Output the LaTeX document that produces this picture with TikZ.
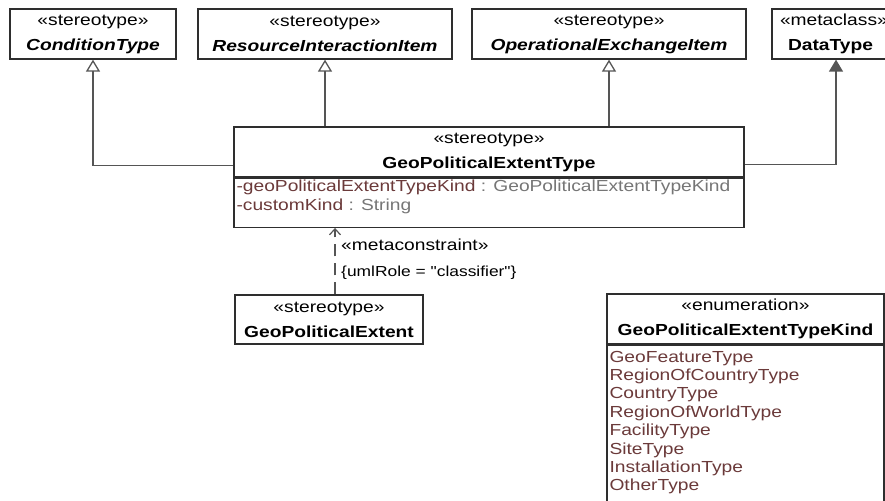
\documentclass[tikz,border=0pt]{standalone}
\usepackage{fontspec}
\setmainfont{Liberation Sans}[FakeStretch=1.2, Ligatures=TeXOff]
\usetikzlibrary{arrows.meta,calc}

\definecolor{attrname}{HTML}{6B3A3A}
\definecolor{attrtype}{HTML}{767676}
\definecolor{umlline}{HTML}{555555}
\definecolor{umlborder}{HTML}{2E2E2E}

\tikzset{
  classbox/.style={draw=umlborder, line width=1.3pt, fill=white, inner sep=0pt,
    align=center, font=\fontsize{16}{25}\selectfont},
  compartment/.style={draw=umlborder, line width=1.3pt, inner sep=0pt, anchor=north west},
  members/.style={anchor=north west, inner sep=0pt, align=left},
  general/.style={draw=umlline, line width=1.3pt, -{Triangle[open,length=12pt,width=14pt]}},
  extension/.style={draw=umlline, line width=1.3pt, -{Triangle[length=12pt,width=14pt]}},
  metadep/.style={draw=umlline, line width=1.2pt, dash pattern=on 12pt off 7pt,
    -{Straight Barb[length=6pt,width=11pt]}},
  deplabel/.style={anchor=west, inner sep=0pt}
}

\begin{document}
\begin{tikzpicture}[x=1pt,y=-1pt]
  \useasboundingbox[fill=white] (0,0) rectangle (885,500);

  % parent stereotypes and metaclass
  \node[classbox, minimum width=166pt, minimum height=50pt] (cond) at (93,34)
    {«stereotype»\\\textbf{\textit{ConditionType}}};
  \node[classbox, minimum width=254pt, minimum height=50pt] (res) at (325,34)
    {«stereotype»\\\textbf{\textit{ResourceInteractionItem}}};
  \node[classbox, minimum width=274pt, minimum height=50pt] (opx) at (609,34)
    {«stereotype»\\\textbf{\textit{OperationalExchangeItem}}};
  \node[classbox, minimum width=128pt, minimum height=50pt, text width=112pt, align=left] (dtype) at (836,34)
    {«metaclass»\\\hspace*{8pt}\textbf{DataType}};

  % GeoPoliticalExtentType
  \node[classbox, minimum width=510pt, minimum height=50pt] (gpetHead) at (489,152)
    {«stereotype»\\\textbf{GeoPoliticalExtentType}};
  \node[compartment, minimum width=510pt, minimum height=49pt] (gpetAttr) at (gpetHead.south west) {};
  \node[members, font=\fontsize{16}{19.5}\selectfont] (gpetAttrs) at ($(gpetAttr.north west)+(3,2)$)
    {\textcolor{attrname}{-geoPoliticalExtentTypeKind} \textcolor{attrtype}{: GeoPoliticalExtentTypeKind}\\
     \textcolor{attrname}{-customKind} \textcolor{attrtype}{: String}};

  % GeoPoliticalExtent
  \node[classbox, minimum width=188pt, minimum height=49pt] (gpe) at (329,319.5)
    {«stereotype»\\\textbf{GeoPoliticalExtent}};

  % enumeration
  \node[classbox, minimum width=277pt, minimum height=50pt] (enumHead) at (745.5,319)
    {«enumeration»\\\textbf{GeoPoliticalExtentTypeKind}};
  \node[compartment, minimum width=277pt, minimum height=170pt] (enumLits) at (enumHead.south west) {};
  \node[members, font=\fontsize{16}{18.4}\selectfont, text=attrname] (enumList) at ($(enumLits.north west)+(3,6)$)
    {GeoFeatureType\\RegionOfCountryType\\CountryType\\RegionOfWorldType\\
     FacilityType\\SiteType\\InstallationType\\OtherType};

  % generalizations
  \coordinate (joinL) at ($(gpetHead.south west)+(0,-12)$);
  \coordinate (joinR) at ($(gpetHead.south east)+(0,-13)$);
  \draw[general] (joinL) -| (cond.south);
  \draw[general] (res.south |- gpetHead.north) -- (res.south);
  \draw[general] (opx.south |- gpetHead.north) -- (opx.south);
  \draw[extension] (joinR) -| (dtype.south);

  % metaconstraint
  \coordinate (depStart) at ($(gpe.north)+(6,0)$);
  \draw[metadep] (depStart) -- (depStart |- gpetAttr.south);
  \node[deplabel, font=\fontsize{16}{19}\selectfont] (mcLabel) at (341,245) {«metaconstraint»};
  \node[deplabel, font=\fontsize{14.5}{17}\selectfont] (roleLabel) at (341,273) {\{umlRole = "classifier"\}};
\end{tikzpicture}
\end{document}
